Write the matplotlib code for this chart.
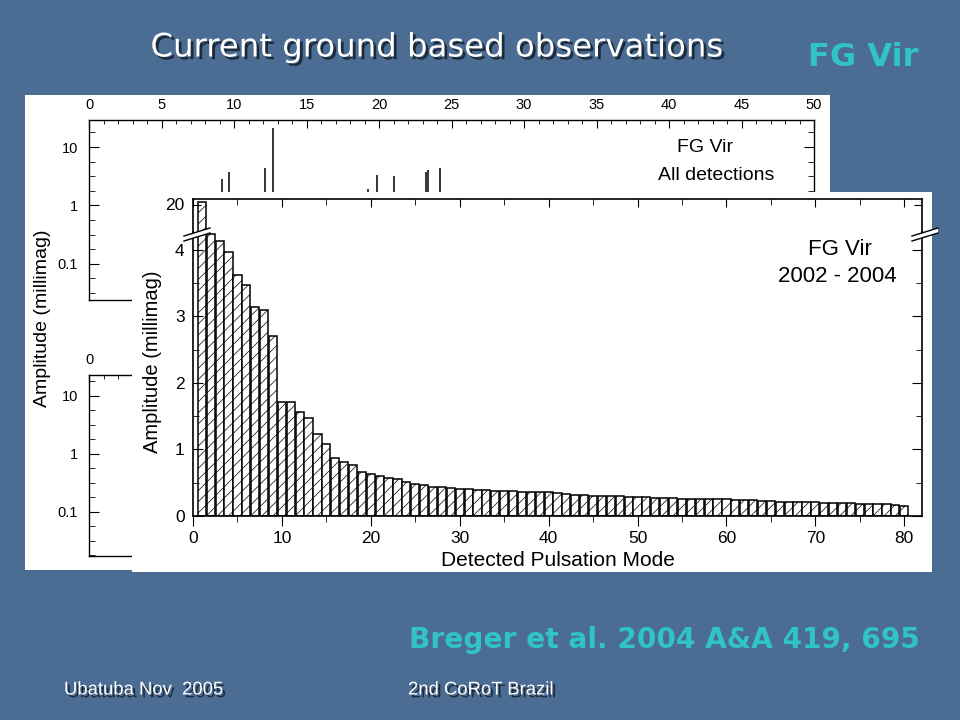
import matplotlib
matplotlib.use("Agg")
import matplotlib.pyplot as plt
import matplotlib.patheffects as pe
from matplotlib.ticker import FixedLocator, MultipleLocator, NullFormatter
import numpy as np

# data
modes = list(range(1, 81))
amps = [20.2, 4.24, 4.13, 3.97, 3.62, 3.48, 3.14, 3.09, 2.71, 1.72,
        1.72, 1.57, 1.47, 1.23, 1.08, 0.87, 0.81, 0.76, 0.66, 0.63,
        0.60, 0.57, 0.55, 0.51, 0.48, 0.46, 0.43, 0.43, 0.42, 0.40,
        0.40, 0.39, 0.39, 0.37, 0.37, 0.37, 0.36, 0.36, 0.36, 0.36,
        0.34, 0.33, 0.31, 0.31, 0.30, 0.30, 0.30, 0.30, 0.28, 0.28,
        0.28, 0.27, 0.27, 0.27, 0.26, 0.26, 0.26, 0.26, 0.26, 0.26,
        0.24, 0.24, 0.24, 0.23, 0.23, 0.21, 0.21, 0.21, 0.21, 0.21,
        0.20, 0.20, 0.20, 0.20, 0.18, 0.18, 0.18, 0.18, 0.17, 0.15]

# all detections (frequency c/d, amplitude mmag) visible above the front panel
det_freq = [9.20, 9.66, 12.15, 12.72, 19.23, 19.87, 21.00, 23.23, 23.40, 24.23]
det_amp = [2.8, 3.8, 4.3, 21.5, 1.9, 3.3, 3.2, 3.8, 4.1, 4.3]

bg = '#4B6D94'
teal = '#30C3C8'
W, H = 960, 720

plt.rcParams['font.family'] = ['Liberation Sans', 'DejaVu Sans']
plt.rcParams['hatch.linewidth'] = 0.5

fig = plt.figure(figsize=(9.6, 7.2), dpi=100, facecolor=bg)


def px_axes(l, t, r, b):
    return fig.add_axes([l / W, 1 - b / H, (r - l) / W, (b - t) / H])


def box(l, t, r, b):
    a = px_axes(l, t, r, b)
    a.set_facecolor('white')
    a.set_xticks([])
    a.set_yticks([])
    for s in a.spines.values():
        s.set_visible(False)
    return a


quarter = FixedLocator([10 ** (k / 4) for k in range(-12, 8) if k % 4 != 0])

# ---- background figure (all detections, log scale) ----
box(25, 95, 830, 570)
for (t, b) in [(120, 300), (375, 556)]:
    ab = px_axes(89, t, 814, b)
    ab.set_facecolor('white')
    ab.set_yscale('log')
    ab.set_xlim(0, 50)
    ab.xaxis.set_major_locator(MultipleLocator(5))
    ab.xaxis.set_minor_locator(MultipleLocator(1))
    if t == 120:
        ab.set_ylim(0.024, 29)
        ab.vlines(det_freq, 0.024, det_amp, color='black', lw=1.1)
        ab.text(0.85, 0.85, 'FG Vir', transform=ab.transAxes, ha='center',
                va='center', fontsize=14)
        ab.text(0.865, 0.69, 'All detections', transform=ab.transAxes,
                ha='center', va='center', fontsize=14)
        ab.yaxis.set_major_locator(FixedLocator([0.1, 1, 10]))
    else:
        ab.set_ylim(0.0174, 22.9)
        # only the first top label shows; the rest sit behind the front panel
        ab.xaxis.set_major_formatter(
            plt.FuncFormatter(lambda v, p: '0' if v == 0 else ''))
        ab.yaxis.set_major_locator(FixedLocator([0.1, 1, 10]))
    ab.tick_params(axis='x', which='both', direction='in', top=True,
                   bottom=False, labeltop=True, labelbottom=False,
                   labelsize=10.5, pad=6)
    ab.tick_params(axis='x', which='major', length=6)
    ab.tick_params(axis='x', which='minor', length=3)
    ab.yaxis.set_major_formatter(plt.FuncFormatter(lambda v, p: '%g' % v))
    ab.yaxis.set_minor_locator(quarter)
    ab.yaxis.set_minor_formatter(NullFormatter())
    ab.tick_params(axis='y', which='both', direction='in', left=True,
                   right=True, labelsize=10.5, pad=8)
    ab.tick_params(axis='y', which='major', length=7)
    ab.tick_params(axis='y', which='minor', length=4)
    for s in ab.spines.values():
        s.set_linewidth(1.0)

fig.text(43 / W, 1 - 318 / H, 'Amplitude (millimag)', rotation=90,
         ha='center', va='center', fontsize=14)

# ---- front figure (2002 - 2004 detected modes) ----
box(132, 192, 932, 572)
ax_hi = px_axes(193, 199, 922, 232)
ax_lo = px_axes(193, 232, 922, 516)

for a in (ax_hi, ax_lo):
    a.bar(modes, amps, width=0.92, facecolor='white', edgecolor='black',
          linewidth=1.1, hatch='///')
    a.set_xlim(0, 82.0)
    a.xaxis.set_major_locator(MultipleLocator(10))
    a.xaxis.set_minor_locator(MultipleLocator(5))

ax_hi.set_ylim(17.8, 20.44)
ax_hi.set_yticks([20])
ax_hi.spines['bottom'].set_visible(False)
ax_hi.tick_params(axis='x', which='both', direction='in', top=True,
                  bottom=False, labelbottom=False)
ax_hi.tick_params(axis='y', direction='in', left=True, right=True,
                  labelsize=12.5, length=6, pad=6)
ax_hi.tick_params(axis='x', which='major', length=6)
ax_hi.tick_params(axis='x', which='minor', length=4)

ax_lo.set_ylim(0, 4.27)
ax_lo.set_yticks([0, 1, 2, 3, 4])
ax_lo.yaxis.set_minor_locator(MultipleLocator(0.5))
ax_lo.spines['top'].set_visible(False)
ax_lo.tick_params(axis='x', which='both', direction='out', top=False,
                  labelsize=12.5, pad=4)
ax_lo.tick_params(axis='x', which='major', length=7)
ax_lo.tick_params(axis='x', which='minor', length=4)
ax_lo.tick_params(axis='y', which='both', direction='in', left=True,
                  right=True, labelsize=12.5, pad=6)
ax_lo.tick_params(axis='y', which='major', length=7)
ax_lo.tick_params(axis='y', which='minor', length=4)

for a in (ax_hi, ax_lo):
    for s in a.spines.values():
        s.set_linewidth(1.2)

# axis break marks
for (x0, x1) in [(184, 210), (912, 938)]:
    xs = np.array([x0, x1]) / W
    fig.add_artist(plt.Polygon([[x0 / W, 1 - 236 / H], [x1 / W, 1 - 228 / H],
                                [x1 / W, 1 - 233 / H], [x0 / W, 1 - 241 / H]],
                               closed=True, facecolor='white', edgecolor='none'))
    for dy in (0, 5):
        ys = 1 - (np.array([236, 228]) + dy) / H
        fig.add_artist(plt.Line2D(xs, ys, color='black', lw=1.0))

ax_lo.text(0.887, 0.94, 'FG Vir', transform=ax_lo.transAxes, ha='center',
           va='center', fontsize=16)
ax_lo.text(0.884, 0.845, '2002 - 2004', transform=ax_lo.transAxes,
           ha='center', va='center', fontsize=16)

fig.text(152 / W, 1 - 362 / H, 'Amplitude (millimag)', rotation=90,
         ha='center', va='center', fontsize=14.5)
fig.text(558 / W, 1 - 561 / H, 'Detected Pulsation Mode', ha='center',
         va='center', fontsize=15)

# ---- slide texts ----
shadow = [pe.withSimplePatchShadow(offset=(2, -2), shadow_rgbFace='black',
                                   alpha=0.6)]
fig.text(437 / W, 1 - 48 / H, 'Current ground based observations',
         ha='center', va='center', fontsize=23.3, color='white',
         family='DejaVu Sans', path_effects=shadow)
fig.text(863 / W, 1 - 57 / H, 'FG Vir', ha='center', va='center',
         fontsize=23, color=teal, weight='bold', family='DejaVu Sans')
fig.text(664 / W, 1 - 640 / H, 'Breger et al. 2004 A&A 419, 695',
         ha='center', va='center', fontsize=20.2, color=teal, weight='bold',
         family='DejaVu Sans')
fig.text(64 / W, 1 - 690 / H, 'Ubatuba Nov  2005', ha='left', va='center',
         fontsize=13.3, color='white', path_effects=shadow)
fig.text(408 / W, 1 - 690 / H, '2nd CoRoT Brazil', ha='left', va='center',
         fontsize=13.3, color='white', path_effects=shadow)

fig.savefig('out.png', dpi=100, facecolor=bg)
